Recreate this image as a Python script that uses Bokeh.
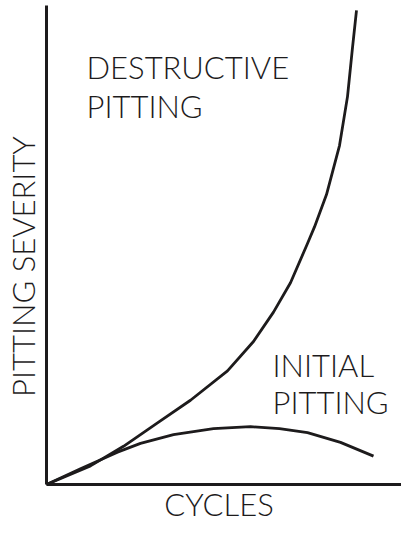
import math
from bokeh.plotting import figure
from bokeh.models import FixedTicker, Range1d, Label
from bokeh.embed import file_html
from bokeh.resources import INLINE

# Destructive pitting curve (cycles, severity) in arbitrary units
destructive_x = [0, 44, 77, 111, 144, 181, 207, 227, 244, 261, 268, 280, 293, 301, 306, 310]
destructive_y = [0, 19, 39, 63, 86, 116, 146, 176, 206, 246, 263, 296, 346, 396, 446, 484]

# Initial pitting curve
initial_x = [0, 34, 71, 94, 127, 167, 204, 233, 261, 294, 327]
initial_y = [0, 16, 33, 42, 51, 57, 59, 57, 53, 43, 29]

label_lines = [["DESTRUCTIVE", "PITTING"], ["INITIAL", "PITTING"]]

x_title = "CYCLES"
y_title = "PITTING SEVERITY"

FONT = "Lato Light"
INK = "#1d1b1c"
FS = "31px"

W, H = 401, 523
AX_Y, TOP = 484, 6          # canvas rows of the x-axis and of the top of the y-axis
s = (AX_Y - TOP) / 488.0
p = figure(width=W, height=H, output_backend="svg", toolbar_location=None,
           x_range=Range1d(-46, W - 46), y_range=Range1d(-(H - AX_Y) / s, 488 + TOP / s),
           min_border=0)
p.outline_line_color = None
p.grid.visible = False

p.xaxis.fixed_location = 0
p.yaxis.fixed_location = 0
p.xaxis.bounds = (0, W - 46)
p.yaxis.bounds = (0, 488 + 1 / s)
for ax in (p.xaxis[0], p.yaxis[0]):
    ax.ticker = FixedTicker(ticks=[])
    ax.major_tick_out = 0
    ax.major_tick_in = 0
    ax.minor_tick_out = 0
    ax.minor_tick_in = 0
    ax.major_label_text_font_size = "0px"
    ax.major_label_standoff = 0
    ax.axis_line_width = 3
    ax.axis_line_color = INK

p.line(destructive_x, destructive_y, line_width=2.8, line_color=INK, line_join="round")
p.line(initial_x, initial_y, line_width=2.8, line_color=INK, line_join="round")

# curve labels (two lines each)
label_anchor = [(40, 425.8, 386.8), (226, 121.8, 83.8)]
for lines, (lx, y1, y2) in zip(label_lines, label_anchor):
    for txt, ly in zip(lines, (y1, y2)):
        p.add_layout(Label(x=lx, y=ly, text=txt, text_font=FONT, text_font_size=FS,
                           text_color=INK, text_align="left", text_baseline="alphabetic"))

# axis titles
p.add_layout(Label(x=172.5, y=-19.9, text=x_title, text_font=FONT, text_font_size=FS,
                   text_color=INK, text_align="center", text_baseline="alphabetic"))
p.add_layout(Label(x=-23.5, y=222.5, text=y_title, text_font=FONT, text_font_size=FS,
                   text_color=INK, text_align="center", text_baseline="alphabetic",
                   angle=math.pi / 2))

open("out.html", "w").write(file_html(p, INLINE))
